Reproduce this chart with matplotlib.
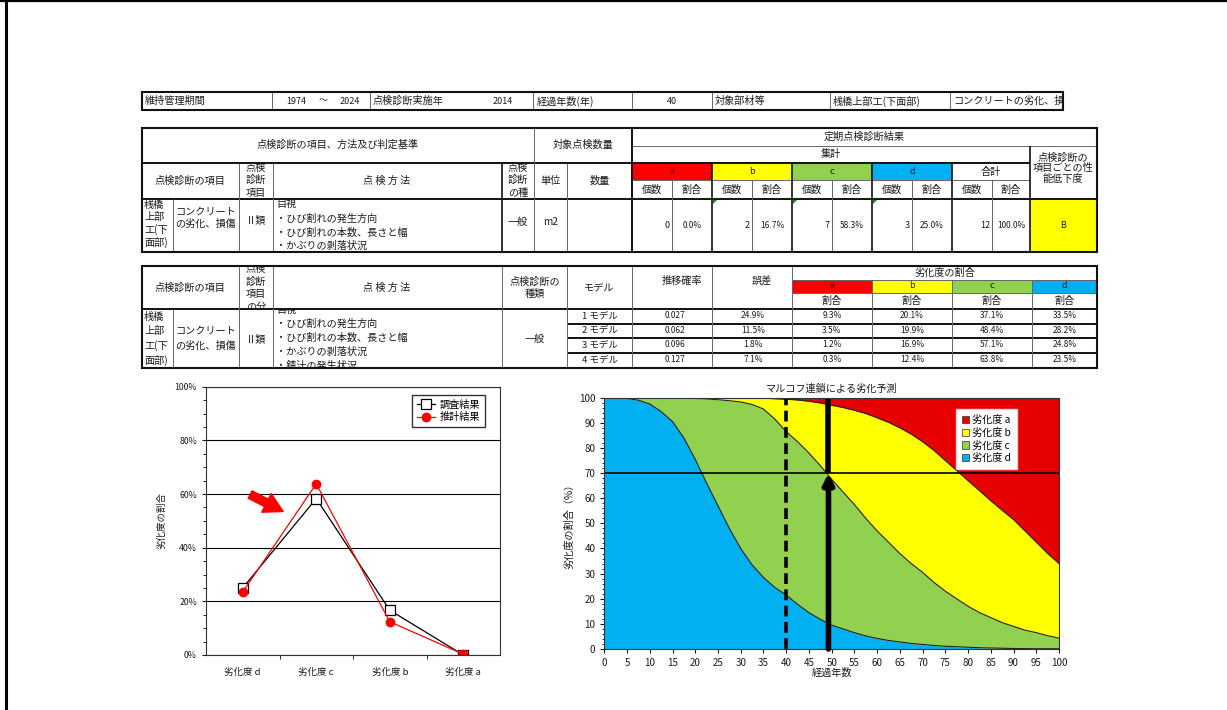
import matplotlib
matplotlib.use("Agg")
import matplotlib.pyplot as plt
from matplotlib.patches import Rectangle, Polygon
from matplotlib.ticker import MultipleLocator, FixedLocator

plt.rcParams['font.family'] = ['Noto Sans CJK JP', 'DejaVu Sans']

# ---- header / inspection info
period_from, period_to = "1974", "2024"
inspect_year = "2014"
elapsed_years = "40"
member = "桟橋上部工(下面部)"
damage = "コンクリートの劣化、損傷"

# ---- inspection result (table 1)
grades = ["a", "b", "c", "d"]
grade_colors = ["#FF0000", "#FFFF00", "#92D050", "#00B0F0"]
counts = [0, 2, 7, 3]
shares = [0.0, 16.7, 58.3, 25.0]
total_count = 12
total_share = 100.0
rating = "B"

# ---- Markov models (table 2)
models = ["1 モデル", "2 モデル", "3 モデル", "4 モデル"]
trans_prob = [0.027, 0.062, 0.096, 0.127]
model_err = [24.9, 11.5, 1.8, 7.1]
model_a = [9.3, 3.5, 1.2, 0.3]
model_b = [20.1, 19.9, 16.9, 12.4]
model_c = [37.1, 48.4, 57.1, 63.8]
model_d = [33.5, 28.2, 24.8, 23.5]

# ---- left chart
cat_labels = ["劣化度 d", "劣化度 c", "劣化度 b", "劣化度 a"]
observed = [25.0, 58.3, 16.7, 0.0]
estimated = [model_d[3], model_c[3], model_b[3], model_a[3]]

# ---- right chart (cumulative shares, every 2.5 years)
years = [0, 2.5, 5, 7.5, 10, 12.5, 15, 17.5, 20, 22.5, 25, 27.5, 30, 32.5, 35, 37.5,
         40, 42.5, 45, 47.5, 50, 52.5, 55, 57.5, 60, 62.5, 65, 67.5, 70, 72.5, 75, 77.5,
         80, 82.5, 85, 87.5, 90, 92.5, 95, 97.5, 100]
top_d = [100, 100, 99.7, 99, 97.5, 94.5, 90.5, 84, 75.5, 66, 57, 48, 40, 33.5, 28.5, 24.5,
         21.5, 17.8, 14.5, 11.8, 9.5, 8, 6.5, 5.2, 4.2, 3.4, 2.8, 2.2, 1.8, 1.4, 1.1, 0.9,
         0.7, 0.5, 0.4, 0.3, 0.2, 0.15, 0.1, 0.1, 0.1]
top_c = [100, 100, 100, 100, 100, 100, 99.9, 99.8, 99.7, 99.5, 99.2, 98.8, 98.3, 97.3, 95.5, 91.5,
         86.5, 82.5, 78, 73, 67.5, 62.5, 57.5, 52, 47, 42.5, 38, 34, 30.5, 26.5, 23, 20,
         17, 14.5, 12.5, 10.5, 9, 7.5, 6.5, 5.3, 4.3]
top_b = [100, 100, 100, 100, 100, 100, 100, 100, 100, 100, 100, 100, 100, 99.9, 99.8, 99.6,
         99.4, 99.1, 98.6, 97.9, 97, 96.1, 95, 93.7, 92, 90.2, 88, 85.5, 82.5, 79, 75, 71,
         67, 63, 59, 55.2, 51.5, 47, 42.5, 38, 34]
threshold = 70
inspect_elapsed = 40
predicted_year = 49.3

TXT = "#1a1a1a"
THIN = "#666666"
THICK = "#111111"
FS = 7.3

fig = plt.figure(figsize=(12.27, 7.10), dpi=100)
ax0 = fig.add_axes([0, 0, 1, 1])
ax0.set_xlim(0, 1227)
ax0.set_ylim(710, 0)
ax0.axis("off")


def hl(y, x0, x1, lw=0.7, c=THIN):
    ax0.plot([x0, x1], [y, y], color=c, lw=lw, solid_capstyle="butt")


def vl(x, y0, y1, lw=0.7, c=THIN):
    ax0.plot([x, x], [y0, y1], color=c, lw=lw, solid_capstyle="butt")


def frame(x0, y0, x1, y1, lw=1.5):
    ax0.add_patch(Rectangle((x0, y0), x1 - x0, y1 - y0, fill=False, ec=THICK, lw=lw, zorder=3))


def fillcell(x0, y0, x1, y1, color):
    ax0.add_patch(Rectangle((x0, y0), x1 - x0, y1 - y0, fc=color, ec="none", zorder=0))


def put(x, y, s, ha="center", size=FS, clip=None):
    t = ax0.text(x, y, s, ha=ha, va="center", fontsize=size, color=TXT)
    if clip is not None:
        x0, y0, x1, y1 = clip
        t.set_clip_on(True)
        t.set_clip_path(Rectangle((x0, y0), x1 - x0, y1 - y0, transform=ax0.transData))
    return t


# page border
hl(0.8, 0, 1227, lw=1.6, c="black")
vl(6, 0, 710, lw=2.2, c="black")

# ---------------- header row
frame(142, 92, 1063, 110)
for x in [272, 370, 533, 632, 712, 830, 950]:
    vl(x, 92, 110)
ym = 101
put(145, ym, "維持管理期間", ha="left")
put(296, ym, period_from, size=6.5)
put(323, ym, "～", size=6.5)
put(350, ym, period_to, size=6.5)
put(373, ym, "点検診断実施年", ha="left")
put(503, ym, inspect_year, size=6.5)
put(537, ym, "経過年数(年)", ha="left")
put(672, ym, elapsed_years, size=6.5)
put(715, ym, "対象部材等", ha="left")
put(833, ym, member, ha="left")
put(953, ym, damage, ha="left", clip=(950, 92, 1062, 110))

# ---------------- table 1
T0, T1 = 128, 252
for i, col in enumerate(grade_colors):
    fillcell(632 + 80 * i, 162.5, 712 + 80 * i, 180, col)
fillcell(1030, 199, 1097, 252, "#FFFF00")
frame(142, T0, 1097, T1)
hl(146, 632, 1097)
hl(162.5, 142, 1030, lw=1.4, c=THICK)
hl(180, 632, 1030)
hl(199, 142, 1097, lw=1.4, c=THICK)
vl(534, T0, T1)
vl(632, T0, T1, lw=1.4, c=THICK)
for x in [239, 273, 567]:
    vl(x, 162.5, T1)
vl(502, 162.5, T1, lw=1.2, c=THICK)
vl(173, 199, T1)
for x in [672, 752, 832, 912, 992]:
    vl(x, 180, T1)
for x in [712, 792, 872, 952]:
    vl(x, 162.5, T1, lw=1.2, c=THICK)
vl(1030, 146, T1, lw=1.2, c=THICK)
for x in [712, 792, 872]:
    ax0.add_patch(Polygon([[x + 1, 200], [x + 5, 200], [x + 1, 204]], closed=True, fc="#1a8a1a", ec="none"))

put(338, 145, "点検診断の項目、方法及び判定基準")
put(583, 145, "対象点検数量")
put(864, 137, "定期点検診断結果")
put(831, 154.5, "集計")
for i, g in enumerate(grades):
    put(672 + 80 * i, 171.5, g, size=6.5)
    put(652 + 80 * i, 189.5, "個数")
    put(692 + 80 * i, 189.5, "割合")
put(991, 171.5, "合計")
put(972, 189.5, "個数")
put(1011, 189.5, "割合")
for y, s in zip([158, 168.5, 179], ["点検診断の", "項目ごとの性", "能低下度"]):
    put(1063, y, s)

put(190.5, 180.5, "点検診断の項目")
for y, s in zip([168, 180, 193], ["点検", "診断", "項目"]):
    put(256, y, s, clip=(239, 163, 273, 198.5))
put(387, 180.5, "点 検 方 法")
for y, s in zip([168, 180, 193], ["点検", "診断", "の種"]):
    put(518, y, s, clip=(502, 163, 534, 198.5))
put(550.5, 180.5, "単位")
put(599.5, 180.5, "数量")

for y, s in zip([204.5, 217, 229.5, 242], ["桟橋", "上部", "工(下", "面部)"]):
    put(144, y, s, ha="left", clip=(142, 199.5, 173, 251.5))
put(175, 212, "コンクリート", ha="left")
put(175, 224, "の劣化、損傷", ha="left", clip=(173, 199, 239, 252))
put(256, 220, "Ⅱ類")
for y, s in zip([204, 219, 232.5, 246], ["目視", "・ひび割れの発生方向", "・ひび割れの本数、長さと幅", "・かぶりの剥落状況"]):
    put(276, y, s, ha="left", clip=(273, 199.5, 502, 251.5))
put(518, 222, "一般")
put(550.5, 222, "m2")

yv = 225
for i in range(4):
    put(670 + 80 * i, yv, f"{counts[i]}", ha="right", size=6.5)
    put(692 + 80 * i, yv, f"{shares[i]:.1f}%", size=6)
put(990, yv, f"{total_count}", ha="right", size=6.5)
put(1011, yv, f"{total_share:.1f}%", size=6)
put(1063, yv, rating, size=6.5)

# ---------------- table 2
S0, S1 = 266, 368
SH = 309  # header bottom
for i, col in enumerate(grade_colors):
    x0 = 792 + 80 * i
    fillcell(x0, 279.5, min(x0 + 80, 1097), 292.5, col)
frame(142, S0, 1097, S1)
hl(279.5, 792, 1097)
hl(292.5, 792, 1097)
hl(SH, 142, 1097, lw=1.4, c=THICK)
row_lines = [323.5, 338, 352.5]
for y in row_lines:
    hl(y, 567, 1097, lw=1.4, c=THICK)
for x in [239, 273, 502, 567, 632, 712, 792]:
    vl(x, S0, S1)
vl(173, SH, S1)
for x in [872, 952, 1032]:
    vl(x, 279.5, S1)

put(190.5, 287.5, "点検診断の項目")
for y, s in zip([268.5, 281.5, 294.5, 307], ["点検", "診断", "項目", "の分"]):
    put(256, y, s, clip=(239, S0 + 0.5, 273, SH - 0.5))
put(387, 287.5, "点 検 方 法")
put(534.5, 281.5, "点検診断の")
put(534.5, 293.5, "種類")
put(599.5, 287.5, "モデル")
put(682, 281, "推移確率")
put(762, 281, "誤差")
put(944.5, 273, "劣化度の割合")
for i, g in enumerate(grades):
    x0 = 792 + 80 * i
    xc = (x0 + min(x0 + 80, 1097)) / 2
    put(xc, 286, g, size=6.5)
    put(xc, 300.5, "割合")

for y, s in zip([316.5, 331, 345.5, 360], ["桟橋", "上部", "工(下", "面部)"]):
    put(144, y, s, ha="left", clip=(142, SH + 0.5, 173, S1 - 0.5))
put(175, 331, "コンクリート", ha="left")
put(175, 345.5, "の劣化、損傷", ha="left", clip=(173, SH, 239, S1))
put(256, 339, "Ⅱ類")
for y, s in zip([309.5, 323.5, 338, 352, 366],
                ["目視", "・ひび割れの発生方向", "・ひび割れの本数、長さと幅",
                 "・かぶりの剥落状況", "・錆汁の発生状況"]):
    put(276, y, s, ha="left", clip=(273, SH + 0.5, 502, S1 - 0.5))
put(534.5, 339, "一般")

row_edges = [SH] + row_lines + [S1]
for i in range(4):
    y = (row_edges[i] + row_edges[i + 1]) / 2 - 0.5
    put(599.5, y, models[i], size=6.8)
    put(675, y, f"{trans_prob[i]:.3f}", size=6)
    put(753, y, f"{model_err[i]:.1f}%", size=6)
    vals = [model_a[i], model_b[i], model_c[i], model_d[i]]
    for j, v in enumerate(vals):
        x0 = 792 + 80 * j
        xc = (x0 + min(x0 + 80, 1097)) / 2
        put(xc, y, f"{v:.1f}%", size=6)

# ---------------- left chart
ax1 = fig.add_axes([206 / 1227, 1 - 655 / 710, 294 / 1227, 268.3 / 710])
xs = list(range(len(cat_labels)))
ax1.plot(xs, observed, color="black", lw=0.9, marker="s", ms=7, mfc="white", mec="black", mew=0.9, label="調査結果")
ax1.plot(xs, estimated, color="#FF0000", lw=0.9, marker="o", ms=6, mfc="#FF0000", mec="#FF0000", label="推計結果")
ax1.set_xlim(-0.5, 3.5)
ax1.set_ylim(0, 100)
ax1.set_yticks(range(0, 101, 20))
ax1.set_yticklabels([f"{v}%" for v in range(0, 101, 20)])
ax1.yaxis.set_minor_locator(MultipleLocator(5))
ax1.set_xticks(xs)
ax1.set_xticklabels(cat_labels)
ax1.xaxis.set_minor_locator(FixedLocator([0.5, 1.5, 2.5]))
ax1.tick_params(axis="x", which="major", length=0, labelsize=6.8, pad=9, colors=TXT)
ax1.tick_params(axis="x", which="minor", length=3, direction="out")
ax1.tick_params(axis="y", which="major", length=3, labelsize=6.3, colors=TXT)
ax1.tick_params(axis="y", which="minor", length=2)
ax1.grid(axis="y", color="black", lw=0.8)
for sp in ax1.spines.values():
    sp.set_color("#333333")
    sp.set_linewidth(0.8)
ax1.set_ylabel("劣化度の割合", fontsize=6.8, labelpad=6, color=TXT)
ax1.legend(loc="upper right", bbox_to_anchor=(0.949, 0.969), fontsize=7.3, frameon=True,
           fancybox=False, edgecolor="black", borderaxespad=0, handlelength=1.8,
           borderpad=0.45, labelspacing=0.25, handletextpad=0.5)
ax1.annotate("", xy=(0.55, 53.5), xytext=(0.1, 59.8),
             arrowprops=dict(arrowstyle="simple,head_length=0.9,head_width=1.0,tail_width=0.4",
                             color="#FF0000", mutation_scale=15, shrinkA=0, shrinkB=0))

# ---------------- right chart
ax2 = fig.add_axes([604.3 / 1227, 1 - 649 / 710, 454.7 / 1227, 251.3 / 710])
ax2.fill_between(years, 0, top_d, color=grade_colors[3], lw=0)
ax2.fill_between(years, top_d, top_c, color=grade_colors[2], lw=0)
ax2.fill_between(years, top_c, top_b, color=grade_colors[1], lw=0)
ax2.fill_between(years, top_b, 100, color="#E60000", lw=0)
for top in (top_d, top_c, top_b):
    ax2.plot(years, top, color="#222222", lw=0.8)
ax2.axhline(threshold, color="black", lw=1.2)
ax2.axvline(inspect_elapsed, color="black", lw=2.6, ls=(0, (3, 1.5)))
ax2.plot([predicted_year, predicted_year], [threshold, 100], color="black", lw=4, solid_capstyle="butt")
ax2.annotate("", xy=(predicted_year, threshold), xytext=(predicted_year, 0),
             arrowprops=dict(arrowstyle="-|>,head_length=0.5,head_width=0.25", lw=4,
                             color="black", mutation_scale=12, shrinkA=0, shrinkB=0))
ax2.set_xlim(0, 100)
ax2.set_ylim(0, 100)
ax2.set_xticks(range(0, 101, 5))
ax2.set_yticks(range(0, 101, 10))
ax2.yaxis.set_minor_locator(MultipleLocator(2))
ax2.tick_params(axis="both", which="major", labelsize=7, length=3, colors=TXT)
ax2.tick_params(axis="y", which="minor", length=1.5)
for sp in ax2.spines.values():
    sp.set_color("#333333")
    sp.set_linewidth(0.8)
ax2.set_title("マルコフ連鎖による劣化予測", fontsize=7.3, pad=4, color=TXT)
ax2.set_xlabel("経過年数", fontsize=7.3, labelpad=0, color=TXT)
ax2.set_ylabel("劣化度の割合（%）", fontsize=7.3, labelpad=3, color=TXT)
handles = [Rectangle((0, 0), 1, 1, fc=c, ec="#333333", lw=0.5)
           for c in ["#E60000"] + grade_colors[1:]]
ax2.legend(handles, [f"劣化度 {g}" for g in grades], loc="upper left",
           bbox_to_anchor=(0.773, 0.955), fontsize=7.3, frameon=True, fancybox=False,
           edgecolor="#dddddd", framealpha=1, borderaxespad=0, handlelength=0.7,
           handleheight=0.7, handletextpad=0.3, labelspacing=0.25, borderpad=0.6)

fig.savefig("out.png", dpi=100)
